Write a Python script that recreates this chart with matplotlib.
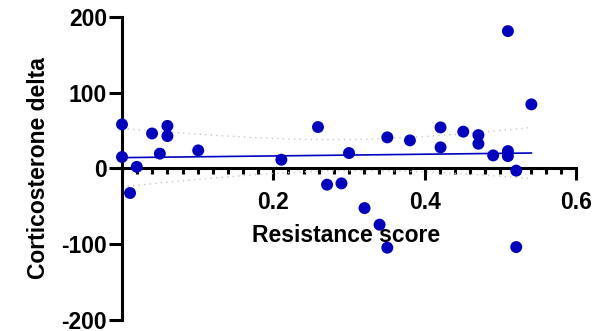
import numpy as np
import matplotlib
matplotlib.use('Agg')
import matplotlib.pyplot as plt
from matplotlib.ticker import MultipleLocator

# values
resistance = [0.0, 0.0, 0.0195, 0.0106, 0.0397, 0.050, 0.060, 0.060, 0.1007,
              0.2106, 0.259, 0.271, 0.290, 0.300, 0.3205, 0.3404, 0.3506,
              0.3506, 0.3805, 0.421, 0.421, 0.451, 0.471, 0.471, 0.4905,
              0.510, 0.510, 0.510, 0.521, 0.521, 0.541]
cort_delta = [58, 15, 2, -32.5, 46, 19.4, 56, 42.6, 23.7,
              11.4, 54.5, -21.5, -19.8, 20.2, -52.4, -74.3, -104.6,
              40.9, 36.9, 54, 27.7, 48.4, 43.9, 32.5, 17.1,
              22.8, 16.2, 181, -3, -103.8, 84.4]
x_ticks = [0.2, 0.4, 0.6]
y_ticks = [-200, -100, 0, 100, 200]

BLUE = '#0000C0'
T_975_DF29 = 2.045  # two-sided 95% t value for n-2 = 29
FS = 16.5

plt.rcParams['font.family'] = ['Liberation Sans', 'DejaVu Sans']
plt.rcParams['font.weight'] = 'bold'
plt.rcParams['axes.unicode_minus'] = False

x = np.array(resistance)
y = np.array(cort_delta)

# linear regression with 95% confidence band
slope, intercept = np.polyfit(x, y, 1)
n = len(x)
resid = y - (slope * x + intercept)
s = np.sqrt(np.sum(resid ** 2) / (n - 2))
sxx = np.sum((x - x.mean()) ** 2)
xf = np.linspace(x.min(), x.max(), 100)
yf = slope * xf + intercept
half = T_975_DF29 * s * np.sqrt(1 / n + (xf - x.mean()) ** 2 / sxx)

fig = plt.figure(figsize=(6.15, 3.31), dpi=100)
ax = fig.add_axes([0.1984, 0.0332, 0.7382, 0.9163])

ax.plot(xf, yf + half, ls=(0, (1, 3)), color='#c8c8c8', lw=1, zorder=2)
ax.plot(xf, yf - half, ls=(0, (1, 3)), color='#c8c8c8', lw=1, zorder=2)
ax.plot(xf, yf, color=BLUE, lw=1.2, zorder=3)
ax.scatter(x, y, s=74, color=BLUE, edgecolors='none', zorder=5, clip_on=False)

ax.set_xlim(0, 0.6)
ax.set_ylim(-200, 200)

ax.spines['top'].set_visible(False)
ax.spines['right'].set_visible(False)
ax.spines['bottom'].set_position(('data', 0))
for sp in ('left', 'bottom'):
    ax.spines[sp].set_linewidth(2.2)
    ax.spines[sp].set_zorder(4)

ax.set_xticks(x_ticks)
ax.set_xticklabels([str(t) for t in x_ticks])
ax.xaxis.set_minor_locator(MultipleLocator(0.02))
ax.set_yticks(y_ticks)
ax.tick_params(axis='x', which='major', direction='out', length=8.6, width=2.2,
               labelsize=FS, pad=7.5)
ax.tick_params(axis='x', which='minor', direction='out', length=4.3, width=2.2)
ax.tick_params(axis='y', which='major', direction='out', length=9.4, width=2.2,
               labelsize=FS, pad=1.5)

ax.set_xlabel('Resistance score', fontsize=FS, fontweight='bold')
ax.xaxis.set_label_coords(0.494, 0.318)
ax.set_ylabel('Corticosterone delta', fontsize=FS, fontweight='bold')
ax.yaxis.set_label_coords(-0.158, 0.5)

fig.savefig('out.png', dpi=100)
